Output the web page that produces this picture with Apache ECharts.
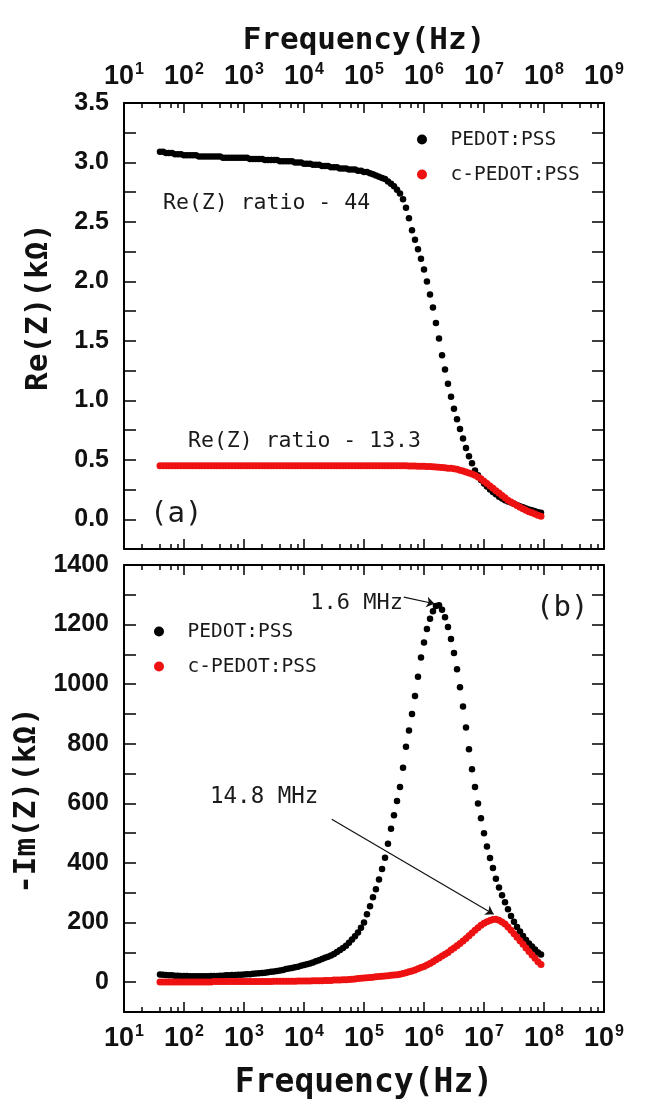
<!DOCTYPE html>
<html>
<head>
<meta charset="utf-8">
<script src="https://cdn.jsdelivr.net/npm/echarts@6/dist/echarts.min.js"></script>
<style>
  html, body { margin: 0; padding: 0; background: #fff; }
  #chart { width: 646px; height: 1101px; }
</style>
</head>
<body>
<div id="chart"></div>
<script>
// sweep frequencies (Hz), 20 points per decade
const freqHz = [
  3.98e1, 4.47e1, 5.01e1, 5.62e1, 6.31e1, 7.08e1, 7.94e1, 8.91e1,
  1.00e2, 1.12e2, 1.26e2, 1.41e2, 1.58e2, 1.78e2, 2.00e2, 2.24e2, 2.51e2, 2.82e2,
  3.16e2, 3.55e2, 3.98e2, 4.47e2, 5.01e2, 5.62e2, 6.31e2, 7.08e2, 7.94e2, 8.91e2,
  1.00e3, 1.12e3, 1.26e3, 1.41e3, 1.58e3, 1.78e3, 2.00e3, 2.24e3, 2.51e3, 2.82e3,
  3.16e3, 3.55e3, 3.98e3, 4.47e3, 5.01e3, 5.62e3, 6.31e3, 7.08e3, 7.94e3, 8.91e3,
  1.00e4, 1.12e4, 1.26e4, 1.41e4, 1.58e4, 1.78e4, 2.00e4, 2.24e4, 2.51e4, 2.82e4,
  3.16e4, 3.55e4, 3.98e4, 4.47e4, 5.01e4, 5.62e4, 6.31e4, 7.08e4, 7.94e4, 8.91e4,
  1.00e5, 1.12e5, 1.26e5, 1.41e5, 1.58e5, 1.78e5, 2.00e5, 2.24e5, 2.51e5, 2.82e5,
  3.16e5, 3.55e5, 3.98e5, 4.47e5, 5.01e5, 5.62e5, 6.31e5, 7.08e5, 7.94e5, 8.91e5,
  1.00e6, 1.12e6, 1.26e6, 1.41e6, 1.58e6, 1.78e6, 2.00e6, 2.24e6, 2.51e6, 2.82e6,
  3.16e6, 3.55e6, 3.98e6, 4.47e6, 5.01e6, 5.62e6, 6.31e6, 7.08e6, 7.94e6, 8.91e6,
  1.00e7, 1.12e7, 1.26e7, 1.41e7, 1.58e7, 1.78e7, 2.00e7, 2.24e7, 2.51e7, 2.82e7,
  3.16e7, 3.55e7, 3.98e7, 4.47e7, 5.01e7, 5.62e7, 6.31e7, 7.08e7, 7.94e7, 8.91e7
];

// (a) Re(Z) in kOhm
const reZ_pedot = [
  3.09, 3.09, 3.08, 3.08, 3.08, 3.07, 3.07, 3.07,
  3.06, 3.06, 3.06, 3.06, 3.06, 3.05, 3.05, 3.05, 3.05, 3.05, 3.05, 3.05, 3.05, 3.04, 3.04, 3.04, 3.04, 3.04, 3.04, 3.04,
  3.04, 3.04, 3.03, 3.03, 3.03, 3.03, 3.03, 3.02, 3.02, 3.02, 3.02, 3.02, 3.01, 3.01, 3.01, 3.01, 3.01, 3.00, 3.00, 3.00,
  2.99, 2.99, 2.99, 2.98, 2.98, 2.98, 2.97, 2.97, 2.97, 2.96, 2.96, 2.96, 2.95, 2.95, 2.95, 2.94, 2.94, 2.94, 2.93, 2.93,
  2.92, 2.92, 2.91, 2.90, 2.89, 2.88, 2.87, 2.86, 2.84, 2.82, 2.80, 2.77, 2.74, 2.69, 2.62, 2.53, 2.43, 2.35, 2.27, 2.19,
  2.10, 2.00, 1.89, 1.78, 1.65, 1.52, 1.38, 1.26, 1.14, 1.03, 0.93, 0.84, 0.76, 0.68, 0.60, 0.53, 0.47, 0.41, 0.37, 0.33,
  0.30, 0.275, 0.25, 0.23, 0.21, 0.19, 0.175, 0.16, 0.15, 0.14, 0.13, 0.12, 0.11, 0.10, 0.09, 0.082, 0.075, 0.067, 0.06, 0.055
];
const reZ_cpedot = [
  0.45, 0.45, 0.45, 0.45, 0.45, 0.45, 0.45, 0.45,
  0.45, 0.45, 0.45, 0.45, 0.45, 0.45, 0.45, 0.45, 0.45, 0.45, 0.45, 0.45, 0.45, 0.45, 0.45, 0.45, 0.45, 0.45, 0.45, 0.45,
  0.45, 0.45, 0.45, 0.45, 0.45, 0.45, 0.45, 0.45, 0.45, 0.45, 0.45, 0.45, 0.45, 0.45, 0.45, 0.45, 0.45, 0.45, 0.45, 0.45,
  0.45, 0.45, 0.45, 0.45, 0.45, 0.45, 0.45, 0.45, 0.45, 0.45, 0.45, 0.45, 0.45, 0.45, 0.45, 0.45, 0.45, 0.45, 0.45, 0.45,
  0.45, 0.45, 0.45, 0.45, 0.45, 0.45, 0.45, 0.45, 0.45, 0.45, 0.45, 0.45, 0.45, 0.45, 0.449, 0.448, 0.448, 0.447, 0.446, 0.446,
  0.445, 0.444, 0.443, 0.442, 0.44, 0.438, 0.436, 0.433, 0.43, 0.428, 0.425, 0.42, 0.413, 0.405, 0.397, 0.39, 0.38, 0.37, 0.355, 0.34,
  0.32, 0.30, 0.28, 0.26, 0.24, 0.22, 0.20, 0.18, 0.16, 0.145, 0.13, 0.115, 0.10, 0.088, 0.075, 0.064, 0.054, 0.044, 0.034, 0.025
];

// (b) -Im(Z) in kOhm
const imZ_pedot = [
  26, 25, 24, 23, 23, 22, 22, 21,
  21, 21, 20, 20, 20, 20, 20, 20, 20, 21, 21, 21, 22, 22, 23, 23, 24, 24, 25, 25,
  26, 27, 27, 28, 29, 30, 31, 32, 33, 35, 36, 38, 39, 41, 44, 46, 48, 50, 52, 55,
  58, 60, 63, 66, 70, 74, 78, 82, 85, 90, 95, 101, 108, 115, 122, 132, 143, 154, 167, 183,
  200, 228, 255, 285, 312, 345, 380, 418, 465, 515, 560, 608, 655, 720, 790, 845, 900, 960, 1025, 1090,
  1140, 1185, 1220, 1245, 1262, 1265, 1250, 1225, 1192, 1152, 1105, 1050, 990, 925, 855, 782, 715, 655, 600, 550,
  500, 455, 417, 383, 347, 318, 292, 268, 245, 222, 203, 185, 170, 155, 142, 130, 120, 110, 100, 93
];
const imZ_cpedot = [
  1, 1, 1, 1, 1, 1, 1, 1,
  1, 1, 1, 1, 1, 1, 1, 1, 1, 1, 2, 2, 2, 2, 2, 2, 2, 2, 2, 2,
  2, 2, 2, 2, 2, 2, 2, 2, 2, 2, 3, 3, 3, 3, 3, 3, 3, 3, 4, 4,
  4, 4, 4, 5, 5, 5, 5, 6, 6, 6, 7, 7, 7, 8, 8, 9, 10, 11, 12, 13,
  14, 15, 16, 17, 18, 19, 20, 21, 22, 23, 24, 25, 27, 29, 32, 35, 38, 41, 45, 49,
  53, 58, 63, 69, 75, 81, 88, 94, 100, 108, 115, 122, 130, 138, 147, 156, 165, 174, 183, 191,
  198, 203, 207, 210, 211, 208, 202, 195, 185, 174, 163, 151, 139, 127, 115, 103, 91, 80, 69, 59
];

// log axis minor ticks (2, 4, 6, 8 in every decade)
const minorTicks = [
  2e1, 4e1, 6e1, 8e1, 2e2, 4e2, 6e2, 8e2, 2e3, 4e3, 6e3, 8e3, 2e4, 4e4, 6e4, 8e4,
  2e5, 4e5, 6e5, 8e5, 2e6, 4e6, 6e6, 8e6, 2e7, 4e7, 6e7, 8e7, 2e8, 4e8, 6e8, 8e8
];

// annotation arrows in data coords [from, to]
const arrowPeak1 = [[4.6e5, 1292], [1.5e6, 1270]];
const arrowPeak2 = [[2.9e4, 547], [1.45e7, 228]];

const mono = '"DejaVu Sans Mono", monospace';
const narrow = '"Liberation Sans Narrow", "Arial Narrow", sans-serif';
const ink = '#111';
const red = '#ee1111';

function pairs(vals) {
  return freqHz.map((f, i) => [f, vals[i]]);
}

const xLabel = {
  margin: 12,
  formatter: v => '{b|10}{s|' + Math.round(Math.log10(v)) + '}',
  rich: {
    b: { fontFamily: narrow, fontWeight: 'bold', fontSize: 27, color: ink },
    s: { fontFamily: narrow, fontWeight: 'bold', fontSize: 16, color: ink, padding: [0, 0, 13, 1] }
  }
};

function xMajor(grid, pos, withLabel, name, nameGap, nameSize) {
  return {
    type: 'log', gridIndex: grid, position: pos, min: 10, max: 1e9, logBase: 10,
    axisLine: { show: true, onZero: false, lineStyle: { color: '#000', width: 2 } },
    axisTick: { show: true, inside: true, length: 10, lineStyle: { color: '#000', width: 1.5 } },
    axisLabel: withLabel ? xLabel : { show: false },
    splitLine: { show: false },
    name: name || '', nameLocation: 'middle', nameGap: nameGap || 0,
    nameTextStyle: { fontFamily: mono, fontWeight: 'bold', fontSize: nameSize || 31, color: ink }
  };
}
function xMinor(grid, pos) {
  return {
    type: 'log', gridIndex: grid, position: pos, min: 10, max: 1e9, logBase: 10,
    axisLine: { show: false, onZero: false },
    axisTick: { show: true, inside: true, length: 5, customValues: minorTicks, lineStyle: { color: '#000', width: 1.5 } },
    axisLabel: { show: false },
    splitLine: { show: false }
  };
}
function yAxis(grid, pos, min, max, step, fmt, name, pad) {
  return {
    type: 'value', gridIndex: grid, position: pos, min: min, max: max, interval: step,
    axisLine: { show: true, onZero: false, lineStyle: { color: '#000', width: 2 } },
    axisTick: { show: true, inside: true, length: 12, lineStyle: { color: '#000', width: 1.5 } },
    axisLabel: fmt ? { show: true, margin: 15, formatter: fmt, fontFamily: narrow, fontWeight: 'bold', fontSize: 25, color: ink } : { show: false },
    splitLine: { show: false },
    name: name || '', nameLocation: 'middle', nameGap: 70, nameRotate: 90,
    nameTextStyle: { fontFamily: mono, fontWeight: 'bold', fontSize: 31, color: ink, padding: pad || 0 }
  };
}

const legendBase = {
  data: ['PEDOT:PSS', 'c-PEDOT:PSS'], orient: 'vertical',
  icon: 'circle', itemWidth: 47, itemHeight: 10, itemGap: 14, selectedMode: false,
  textStyle: { fontFamily: mono, fontSize: 19.5, color: '#1a1a1a', lineHeight: 21 }
};

const chart = echarts.init(document.getElementById('chart'));
chart.setOption({
  animation: false,
  backgroundColor: '#fff',
  grid: [
    { left: 124, right: 42, top: 103, height: 446 },
    { left: 124, right: 42, top: 565, height: 447 }
  ],
  xAxis: [
    xMajor(0, 'top', true, 'Frequency(Hz)', 47, 31),
    xMinor(0, 'top'),
    xMajor(0, 'bottom', false),
    xMinor(0, 'bottom'),
    xMajor(1, 'bottom', true, 'Frequency(Hz)', 55, 33),
    xMinor(1, 'bottom'),
    xMajor(1, 'top', false),
    xMinor(1, 'top')
  ],
  yAxis: [
    yAxis(0, 'left', -0.25, 3.5, 0.25,
      v => (v >= 0 && Math.abs(v * 2 - Math.round(v * 2)) < 1e-6) ? v.toFixed(1) : '',
      'Re(Z)(kΩ)', [0, 0, 0, 38]),
    yAxis(0, 'right', -0.25, 3.5, 0.25, null),
    yAxis(1, 'left', -100, 1400, 100,
      v => (v >= 0 && Math.round(v) % 200 === 0) ? String(Math.round(v)) : '',
      '-Im(Z)(kΩ)', [0, 24, 0, 0]),
    yAxis(1, 'right', -100, 1400, 100, null)
  ],
  legend: [
    Object.assign({}, legendBase, { left: 412, top: 124 }),
    Object.assign({}, legendBase, { left: 149, top: 616 })
  ],
  series: [
    {
      name: 'PEDOT:PSS', type: 'scatter', xAxisIndex: 0, yAxisIndex: 0,
      symbolSize: 6.5, itemStyle: { color: '#000', opacity: 1 }, data: pairs(reZ_pedot)
    },
    {
      name: 'c-PEDOT:PSS', type: 'scatter', xAxisIndex: 0, yAxisIndex: 0,
      symbolSize: 7, itemStyle: { color: red, opacity: 1 }, data: pairs(reZ_cpedot)
    },
    {
      name: 'PEDOT:PSS', type: 'scatter', xAxisIndex: 4, yAxisIndex: 2,
      symbolSize: 6.5, itemStyle: { color: '#000', opacity: 1 }, data: pairs(imZ_pedot),
      markLine: {
        silent: true, symbol: ['none', 'arrow'], symbolSize: 8,
        label: { show: false },
        lineStyle: { color: '#111', width: 1.2, type: 'solid', opacity: 1 },
        data: [
          [{ coord: arrowPeak1[0] }, { coord: arrowPeak1[1] }],
          [{ coord: arrowPeak2[0] }, { coord: arrowPeak2[1] }]
        ]
      }
    },
    {
      name: 'c-PEDOT:PSS', type: 'scatter', xAxisIndex: 4, yAxisIndex: 2,
      symbolSize: 7, itemStyle: { color: red, opacity: 1 }, data: pairs(imZ_cpedot)
    }
  ],
  graphic: [
    { type: 'text', x: 163, y: 203, style: { text: 'Re(Z) ratio - 44', fontFamily: mono, fontSize: 21.5, fill: '#1a1a1a', verticalAlign: 'middle' } },
    { type: 'text', x: 188, y: 441, style: { text: 'Re(Z) ratio - 13.3', fontFamily: mono, fontSize: 21.5, fill: '#1a1a1a', verticalAlign: 'middle' } },
    { type: 'text', x: 150, y: 514, style: { text: '(a)', fontFamily: mono, fontSize: 29, fill: '#1a1a1a', verticalAlign: 'middle' } },
    { type: 'text', x: 536, y: 608, style: { text: '(b)', fontFamily: mono, fontSize: 29, fill: '#1a1a1a', verticalAlign: 'middle' } },
    { type: 'text', x: 403, y: 603, style: { text: '1.6 MHz', fontFamily: mono, fontSize: 22, fill: '#1a1a1a', align: 'right', verticalAlign: 'middle' } },
    { type: 'text', x: 210, y: 797, style: { text: '14.8 MHz', fontFamily: mono, fontSize: 22.5, fill: '#1a1a1a', verticalAlign: 'middle' } }
  ]
});
</script>
</body>
</html>
